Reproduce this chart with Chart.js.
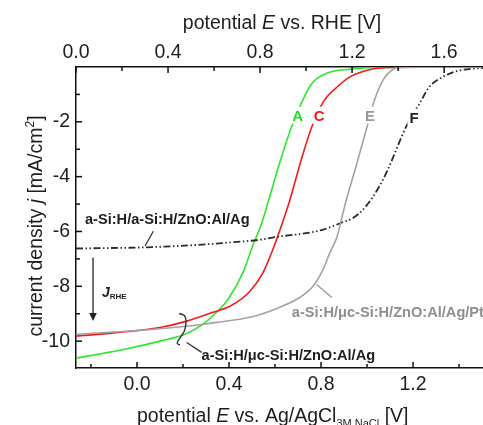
<!DOCTYPE html>
<html><head><meta charset="utf-8">
<script src="https://cdn.jsdelivr.net/npm/chart.js@4.4.1/dist/chart.umd.min.js"></script>
<style>html,body{margin:0;padding:0;background:#fff;} #wrap{width:483px;height:425px;position:relative;}</style>
</head><body><div id="wrap"><canvas id="c" width="483" height="425"></canvas></div>
<script>
// ---------- data (potential vs Ag/AgCl [V], current density [mA/cm2]) ----------
const potA = [-0.265,-0.15,-0.043,0.1,0.209,0.287,0.352,0.396,0.461,0.504,0.54,0.571,0.62,0.672,0.717,0.76,0.826,0.926,1.05,1.504];
const jA   = [-10.62,-10.45,-10.28,-10.0,-9.75,-9.38,-8.9,-8.47,-7.49,-6.5,-5.75,-4.9,-3.5,-2.18,-1.27,-0.6,-0.22,-0.08,-0.02,0];

const potC = [-0.265,-0.1,0.1,0.217,0.33,0.404,0.491,0.548,0.591,0.622,0.665,0.71,0.76,0.81,0.87,0.926,1.01,1.1,1.504];
const jC   = [-9.82,-9.7,-9.5,-9.27,-8.95,-8.73,-8.18,-7.5,-6.65,-5.93,-4.84,-3.5,-2.18,-1.27,-0.73,-0.36,-0.1,-0.02,0];

const potE = [-0.265,-0.043,0.1,0.274,0.36,0.491,0.622,0.709,0.765,0.809,0.839,0.87,0.883,0.91,0.948,1.0,1.03,1.07,1.11,1.15,1.504];
const jE   = [-9.75,-9.64,-9.55,-9.4,-9.3,-9.13,-8.76,-8.4,-8.0,-7.38,-6.76,-6.18,-5.75,-4.84,-3.75,-2.18,-1.27,-0.47,-0.1,-0.01,0];

const potF = [-0.265,0.026,0.243,0.404,0.535,0.622,0.72,0.81,0.883,0.94,0.983,1.026,1.07,1.09,1.17,1.23,1.27,1.33,1.39,1.49,1.504];
const jF   = [-6.62,-6.58,-6.5,-6.4,-6.3,-6.18,-6.08,-5.93,-5.7,-5.5,-5.2,-4.73,-4.1,-3.75,-2.18,-1.31,-0.73,-0.36,-0.15,-0.04,-0.035];

const rheOffset = 0.265;           // E(RHE) = E(Ag/AgCl) + offset
const xMin = -0.265, xMax = 1.504;
const yMin = -10.98, yMax = 0;

const bottomMajor = [0.0,0.4,0.8,1.2];
const bottomMinor = [-0.2,0.2,0.6,1.0,1.4];
const topMajor    = [0.0,0.4,0.8,1.2,1.6];
const topMinor    = [0.2,0.6,1.0,1.4];
const yMajor      = [-10,-8,-6,-4,-2];
const yMinor      = [-9,-7,-5,-3,-1];

const curveLetters = ['A','C','E','F'];

// ---------- helpers ----------
const FONT = '"Liberation Sans", Arial, Helvetica, sans-serif';
const TXT = '#1e1e1e';
const pts = (xs, ys) => xs.map((x, i) => ({x: x, y: ys[i]}));

function runsWidth(ctx, runs){
  let w = 0;
  runs.forEach(r => { ctx.font = r.font; w += ctx.measureText(r.t).width; });
  return w;
}
function drawRuns(ctx, runs, x, y, align, color){
  const w = runsWidth(ctx, runs);
  let cx = align === 'center' ? x - w/2 : (align === 'right' ? x - w : x);
  ctx.textBaseline = 'alphabetic';
  ctx.textAlign = 'left';
  runs.forEach(r => {
    ctx.font = r.font;
    ctx.fillStyle = r.color || color;
    ctx.fillText(r.t, cx, y + (r.dy || 0));
    cx += ctx.measureText(r.t).width;
  });
}

const decor = {
  id: 'decor',
  afterDraw(chart){
    const ctx = chart.ctx;
    const xs = chart.scales.x, xt = chart.scales.x2, ys = chart.scales.y;
    const a = chart.chartArea;
    const px = v => xs.getPixelForValue(v);
    const py = v => ys.getPixelForValue(v);
    ctx.save();
    // ticks (inward)
    ctx.strokeStyle = '#111';
    ctx.lineWidth = 1.5;
    const tick = (x1,y1,x2,y2) => { ctx.beginPath(); ctx.moveTo(x1,y1); ctx.lineTo(x2,y2); ctx.stroke(); };
    bottomMajor.forEach(v => { const p = px(v); tick(p, a.bottom, p, a.bottom-6); });
    bottomMinor.forEach(v => { const p = px(v); tick(p, a.bottom, p, a.bottom-4); });
    topMajor.forEach(v => { const p = xt.getPixelForValue(v); tick(p, a.top, p, a.top+6); });
    topMinor.forEach(v => { const p = xt.getPixelForValue(v); tick(p, a.top, p, a.top+4); });
    yMajor.forEach(v => { const p = py(v); tick(a.left, p, a.left+6, p); });
    yMinor.forEach(v => { const p = py(v); tick(a.left, p, a.left+4, p); });

    // axis titles
    const fs = 19.5;
    const nf = fs + 'px ' + FONT, itf = 'italic ' + fs + 'px ' + FONT;
    drawRuns(ctx, [{t:'potential ',font:nf},{t:'E',font:itf},{t:' vs. RHE [V]',font:nf}], 282, 29, 'center', TXT);
    drawRuns(ctx, [{t:'potential ',font:nf},{t:'E',font:itf},{t:' vs. Ag/AgCl',font:nf},
                   {t:'3M NaCl',font:'11px '+FONT,dy:5},{t:' [V]',font:nf}], 137, 422, 'left', TXT);
    ctx.save();
    ctx.translate(42, 226);
    ctx.rotate(-Math.PI/2);
    drawRuns(ctx, [{t:'current density ',font:nf},{t:'j',font:itf},{t:' [mA/cm',font:nf},
                   {t:'2',font:'12px '+FONT,dy:-8},{t:']',font:nf}], 0, 0, 'center', TXT);
    ctx.restore();

    // curve letters (with white knock-out behind, as in the original)
    const lf = 'bold 15px ' + FONT;
    const letterPos = [[0.698,-1.96,'#22dd22'],[0.792,-1.96,'#ee1c1c'],[1.013,-1.96,'#999999'],[1.204,-2.03,'#1e1e1e']];
    curveLetters.forEach((L,i) => {
      const p = letterPos[i];
      const cx = px(p[0]), cy = py(p[1]);
      ctx.font = lf;
      const w = ctx.measureText(L).width;
      ctx.fillStyle = '#fff';
      ctx.fillRect(cx - w/2 - 2, cy - 14, w + 4, 17);
      drawRuns(ctx, [{t:L,font:lf}], cx, cy, 'center', p[2]);
    });

    // annotation labels
    const af = 'bold 14.6px ' + FONT;
    drawRuns(ctx, [{t:'a-Si:H/a-Si:H/ZnO:Al/Ag',font:af}], px(-0.226), py(-5.71), 'left', '#1e1e1e');
    drawRuns(ctx, [{t:'a-Si:H/\u03bcc-Si:H/ZnO:Al/Ag',font:af}], px(0.281), py(-10.69), 'left', '#1e1e1e');
    drawRuns(ctx, [{t:'a-Si:H/\u03bcc-Si:H/ZnO:Al/Ag/Pt',font:af}], px(0.673), py(-9.13), 'left', '#8f8f8f');

    // leader lines
    ctx.lineWidth = 1.3;
    ctx.strokeStyle = '#333';
    tick(px(0.071), py(-5.99), px(0.035), py(-6.53));
    tick(px(0.216), py(-10.05), px(0.281), py(-10.41));
    ctx.strokeStyle = '#999';
    tick(px(0.781), py(-7.93), px(0.847), py(-8.41));

    // bracket
    ctx.strokeStyle = '#333';
    ctx.lineWidth = 1.4;
    const bx = px(0.2), by = py(-9.55);
    ctx.beginPath();
    ctx.moveTo(bx-4, by-15);
    ctx.quadraticCurveTo(bx+3, by-15, bx+3, by-8);
    ctx.quadraticCurveTo(bx+3, by-1, bx+1, by+3);
    ctx.quadraticCurveTo(bx-2, by+8, bx-5, by+12);
    ctx.quadraticCurveTo(bx-7, by+16, bx-3, by+16);
    ctx.stroke();

    // J_RHE arrow
    const ax = px(-0.191), ay1 = py(-6.95), ay2 = py(-9.27);
    ctx.strokeStyle = '#333';
    ctx.lineWidth = 1.4;
    tick(ax, ay1, ax, ay2 - 6);
    ctx.fillStyle = '#222';
    ctx.beginPath();
    ctx.moveTo(ax, ay2);
    ctx.lineTo(ax-3.8, ay2-8);
    ctx.lineTo(ax+3.8, ay2-8);
    ctx.closePath();
    ctx.fill();
    drawRuns(ctx, [{t:'J',font:'italic bold 14px '+FONT},{t:'RHE',font:'bold 8px '+FONT,dy:2}], px(-0.152), py(-8.4), 'left', '#1e1e1e');

    ctx.restore();
  }
};

const tickFont = {family: FONT, size: 19.5};

new Chart(document.getElementById('c'), {
  type: 'scatter',
  data: {
    datasets: [
      {label:'E', data: pts(potE, jE), borderColor:'#a3a3a3', borderWidth:1.6, showLine:true, pointRadius:0, cubicInterpolationMode:'monotone'},
      {label:'F', data: pts(potF, jF), borderColor:'#2a2a2a', borderWidth:1.8, borderDash:[7,2.5,1.5,2.5,1.5,2.5], showLine:true, pointRadius:0, cubicInterpolationMode:'monotone'},
      {label:'C', data: pts(potC, jC), borderColor:'#f01c1c', borderWidth:1.6, showLine:true, pointRadius:0, cubicInterpolationMode:'monotone'},
      {label:'A', data: pts(potA, jA), borderColor:'#2ee62e', borderWidth:1.6, showLine:true, pointRadius:0, cubicInterpolationMode:'monotone'}
    ]
  },
  options: {
    responsive: false,
    animation: false,
    events: [],
    layout: {padding: 0},
    plugins: {legend:{display:false}, tooltip:{enabled:false}},
    scales: {
      x: {
        type:'linear', position:'bottom', min:xMin, max:xMax,
        afterBuildTicks: s => { s.ticks = bottomMajor.map(v => ({value:v})); },
        afterFit: s => { s.height = 57; },
        grid:{display:false, drawTicks:false},
        border:{display:true, color:'#111', width:1.5},
        ticks:{font:tickFont, color:TXT, padding:5, maxRotation:0, autoSkip:false, callback: v => v.toFixed(1)}
      },
      x2: {
        type:'linear', position:'top', min:xMin + rheOffset, max:xMax + rheOffset,
        afterBuildTicks: s => { s.ticks = topMajor.map(v => ({value:v})); },
        afterFit: s => { s.height = 67; },
        grid:{display:false, drawTicks:false},
        border:{display:true, color:'#111', width:1.5},
        ticks:{font:tickFont, color:TXT, padding:3, maxRotation:0, autoSkip:false, callback: v => v.toFixed(1)}
      },
      y: {
        type:'linear', position:'left', min:yMin, max:yMax,
        afterBuildTicks: s => { s.ticks = yMajor.map(v => ({value:v})); },
        afterFit: s => { s.width = 76; },
        grid:{display:false, drawTicks:false},
        border:{display:true, color:'#111', width:1.5},
        ticks:{font:tickFont, color:TXT, padding:6, autoSkip:false, callback: v => String(v)}
      }
    }
  },
  plugins: [decor]
});
</script>
</body></html>
